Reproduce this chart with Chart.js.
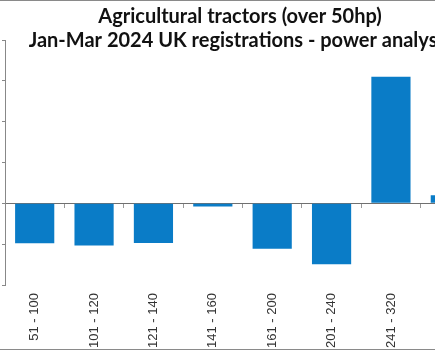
<!DOCTYPE html>
<html>
<head>
<meta charset="utf-8">
<script src="https://cdn.jsdelivr.net/npm/chart.js@4.4.1/dist/chart.umd.min.js"></script>
<style>
  html, body { margin: 0; padding: 0; background: #fff; overflow: hidden; }
  #wrap { position: relative; width: 435px; height: 350px; overflow: hidden; }
  #powerChart { position: absolute; left: 0; top: 0; }
  .edge { position: absolute; left: 0; width: 435px; height: 1px; background: #8a8a8a; }
</style>
</head>
<body>
<div id="wrap">
  <canvas id="powerChart" width="489" height="350"></canvas>
  <div class="edge" style="top:0"></div>
  <div class="edge" style="top:349px"></div>
</div>
<script>
// power bands (hp) and % change in registrations
const bands = ['51 - 100', '101 - 120', '121 - 140', '141 - 160', '161 - 200', '201 - 240', '241 - 320', 'Over 320'];
const change = [-9.8, -10.3, -9.7, -0.8, -11.1, -14.9, 31.0, 2.0];
const titleLines = ['Agricultural tractors (over 50hp)', 'Jan-Mar 2024 UK registrations - power analysis'];
const yMin = -20, yMax = 40, yStep = 10;

const ctx = document.getElementById('powerChart').getContext('2d');

const config = {
  type: 'bar',
  data: {
    labels: bands,
    datasets: [{
      data: change,
      backgroundColor: '#0a7cc7',
      borderWidth: 0,
      barPercentage: 0.66,
      categoryPercentage: 1
    }]
  },
  options: {
    responsive: false,
    animation: false,
    layout: { padding: { left: 0, right: 9, top: 0, bottom: 0 } },
    scales: {
      x: {
        position: 'bottom',
        grid: { display: false, drawTicks: false },
        border: { display: false },
        ticks: {
          minRotation: 90,
          maxRotation: 90,
          autoSkip: false,
          padding: 8,
          color: '#333',
          font: { family: 'Liberation Sans', size: 13 }
        },
        afterFit: s => { s.height = 65; }
      },
      // zero line with category tick marks
      x0: {
        type: 'category',
        axis: 'x',
        position: { y: 0 },
        offset: true,
        grid: { display: true, offset: true, drawOnChartArea: false, drawTicks: true, tickLength: 4, color: '#999' },
        border: { display: true, color: '#707070', width: 1 },
        ticks: { display: false }
      },
      y: {
        min: yMin,
        max: yMax,
        ticks: { stepSize: yStep, display: false },
        grid: { drawOnChartArea: false, drawTicks: true, tickLength: 3, color: '#888' },
        border: { display: true, color: '#888' },
        afterFit: s => { s.width = 5; }
      }
    },
    plugins: {
      legend: { display: false },
      tooltip: { enabled: false },
      title: {
        display: true,
        text: titleLines,
        color: '#111',
        font: { family: 'Lato', size: 20, weight: 'bold', lineHeight: 1.17 },
        padding: { top: 5, bottom: -11.8 }
      }
    }
  }
};

new Chart(ctx, config);
</script>
</body>
</html>
